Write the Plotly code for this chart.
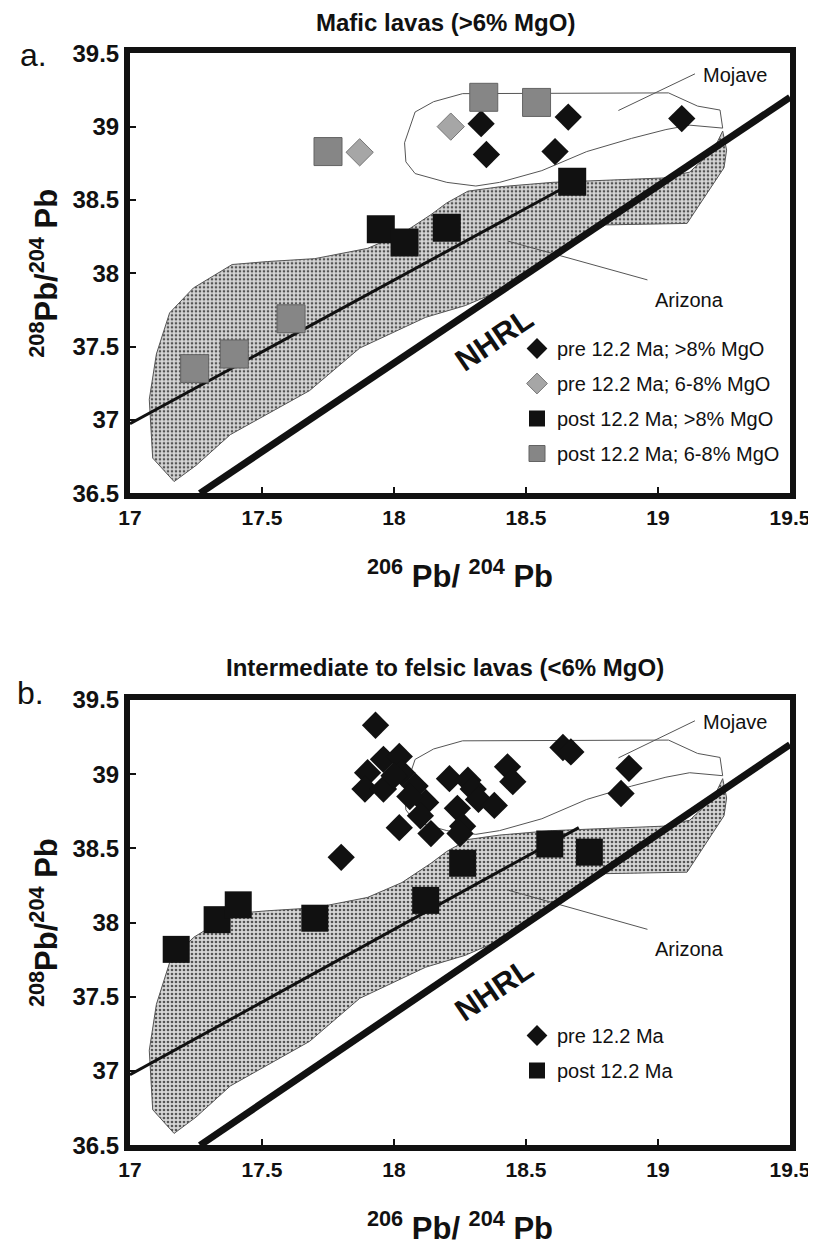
import plotly.graph_objects as go

# ---------------- data ----------------
# Panel a: mafic lavas
a_pre_gt8_x = [18.33, 18.66, 19.09, 18.35, 18.61]
a_pre_gt8_y = [39.02, 39.065, 39.055, 38.81, 38.83]
a_pre_68_x = [18.215, 17.87]
a_pre_68_y = [39.0, 38.825]
a_post_gt8_x = [17.95, 18.04, 18.20, 18.675]
a_post_gt8_y = [38.30, 38.21, 38.31, 38.625]
a_post_68_x = [18.34, 18.54, 17.75, 17.61, 17.395, 17.245]
a_post_68_y = [39.20, 39.165, 38.83, 37.69, 37.45, 37.35]

# Panel b: intermediate to felsic lavas
b_pre_x = [17.93, 17.80, 17.96, 18.02, 17.90, 17.89, 17.96, 18.03, 18.08, 18.12,
           18.10, 18.02, 18.14, 18.21, 18.28, 18.30, 18.24, 18.32, 18.38, 18.26,
           18.25, 18.43, 18.45, 18.64, 18.67, 18.89, 18.86, 18.00, 18.06]
b_pre_y = [39.33, 38.44, 39.10, 39.12, 39.01, 38.90, 38.90, 39.01, 38.92, 38.81,
           38.72, 38.64, 38.60, 38.97, 38.96, 38.90, 38.77, 38.83, 38.79, 38.65,
           38.60, 39.05, 38.95, 39.18, 39.15, 39.04, 38.87, 38.99, 38.85]
b_post_x = [17.175, 17.33, 17.41, 17.70, 18.12, 18.26, 18.59, 18.74]
b_post_y = [37.82, 38.02, 38.12, 38.03, 38.15, 38.40, 38.53, 38.475]

# Fields
arizona_x = [17.167, 17.086, 17.073, 17.10, 17.15, 17.24, 17.387, 17.52, 17.70, 17.90,
             18.03, 18.14, 18.20, 18.28, 18.40, 18.60, 19.02, 19.12, 19.21, 19.245,
             19.26, 19.25, 19.11, 18.80, 18.60, 18.40, 18.27, 18.12, 17.87, 17.68,
             17.55, 17.38, 17.25, 17.167]
arizona_y = [36.58, 36.74, 37.14, 37.45, 37.73, 37.90, 38.06, 38.08, 38.10, 38.17,
             38.27, 38.40, 38.48, 38.56, 38.59, 38.62, 38.65, 38.69, 38.84, 38.97,
             38.84, 38.72, 38.34, 38.33, 38.13, 37.88, 37.78, 37.70, 37.49, 37.20,
             37.07, 36.90, 36.69, 36.58]
mojave_x = [18.08, 18.15, 18.26, 19.04, 19.15, 19.235, 19.245, 19.12, 19.03, 18.90,
            18.73, 18.65, 18.56, 18.40, 18.31, 18.20, 18.08, 18.045, 18.04, 18.08]
mojave_y = [39.10, 39.17, 39.225, 39.23, 39.14, 39.113, 38.99, 39.01, 38.98, 38.92,
            38.83, 38.77, 38.70, 38.62, 38.595, 38.62, 38.68, 38.76, 38.89, 39.10]

# Reference lines
nhrl_x = [17.265, 19.5]
nhrl_y = [36.5, 39.2]
a_trend_x = [17.0, 18.64]
a_trend_y = [36.975, 38.58]
b_trend_x = [17.0, 18.70]
b_trend_y = [36.975, 38.64]

# Label leader lines
mojave_leader_x = [18.85, 19.14]
mojave_leader_y = [39.11, 39.36]
arizona_leader_x = [18.43, 18.96]
arizona_leader_y = [38.22, 37.955]

x_ticks = [17, 17.5, 18, 18.5, 19, 19.5]
y_ticks = [36.5, 37, 37.5, 38, 38.5, 39, 39.5]

FONT = "Liberation Sans"
BLACK = "#111111"

# The page body adds an 8px margin, so the figure is 8px smaller and
# all page-pixel positions below are shifted by that offset.
OFF = 8
W, H = 816 - OFF, 1249 - OFF


def px(xp):
    return (xp - OFF) / W


def py(yp):
    return 1 - (yp - OFF) / H


fig = go.Figure()


def add_fields(xa, ya, trend_x, trend_y):
    fig.add_trace(go.Scatter(
        x=arizona_x, y=arizona_y, xaxis=xa, yaxis=ya, mode="lines", fill="toself",
        fillcolor="#cfcfcf",
        fillpattern=dict(shape=".", fgcolor="#555555", bgcolor="#d6d6d6", size=4, solidity=0.35),
        line=dict(color="#555555", width=1), showlegend=False, hoverinfo="skip"))
    fig.add_trace(go.Scatter(
        x=mojave_x, y=mojave_y, xaxis=xa, yaxis=ya, mode="lines",
        line=dict(color="#555555", width=1), showlegend=False, hoverinfo="skip"))
    fig.add_trace(go.Scatter(
        x=mojave_leader_x, y=mojave_leader_y, xaxis=xa, yaxis=ya, mode="lines",
        line=dict(color="#555555", width=1), showlegend=False, hoverinfo="skip"))
    fig.add_trace(go.Scatter(
        x=arizona_leader_x, y=arizona_leader_y, xaxis=xa, yaxis=ya, mode="lines",
        line=dict(color="#555555", width=1), showlegend=False, hoverinfo="skip"))
    fig.add_trace(go.Scatter(
        x=trend_x, y=trend_y, xaxis=xa, yaxis=ya, mode="lines",
        line=dict(color=BLACK, width=3), showlegend=False, hoverinfo="skip"))
    fig.add_trace(go.Scatter(
        x=nhrl_x, y=nhrl_y, xaxis=xa, yaxis=ya, mode="lines",
        line=dict(color=BLACK, width=7), showlegend=False, hoverinfo="skip"))


add_fields("x", "y", a_trend_x, a_trend_y)
add_fields("x2", "y2", b_trend_x, b_trend_y)

# Panel a markers
fig.add_trace(go.Scatter(
    x=a_pre_gt8_x, y=a_pre_gt8_y, mode="markers", name="pre 12.2 Ma; >8% MgO",
    marker=dict(symbol="diamond", size=21, color=BLACK, line=dict(width=0)),
    legend="legend", legendgroup="a1", legendrank=1))
fig.add_trace(go.Scatter(
    x=a_pre_68_x, y=a_pre_68_y, mode="markers", name="pre 12.2 Ma; 6-8% MgO",
    marker=dict(symbol="diamond", size=21, color="#a6a6a6", line=dict(width=1, color="#777777")),
    legend="legend", legendgroup="a2", legendrank=2))
fig.add_trace(go.Scatter(
    x=a_post_gt8_x, y=a_post_gt8_y, mode="markers", name="post 12.2 Ma; >8% MgO",
    marker=dict(symbol="square", size=28, color=BLACK, line=dict(width=0)),
    legend="legend", legendgroup="a3", legendrank=3))
fig.add_trace(go.Scatter(
    x=a_post_68_x, y=a_post_68_y, mode="markers", name="post 12.2 Ma; 6-8% MgO",
    marker=dict(symbol="square", size=28, color="#868686", line=dict(width=1, color="#636363")),
    legend="legend", legendgroup="a4", legendrank=4))

# Panel b markers
fig.add_trace(go.Scatter(
    x=b_pre_x, y=b_pre_y, xaxis="x2", yaxis="y2", mode="markers", name="pre 12.2 Ma",
    marker=dict(symbol="diamond", size=21, color=BLACK, line=dict(width=0)),
    legend="legend2", legendgroup="b1", legendrank=1))
fig.add_trace(go.Scatter(
    x=b_post_x, y=b_post_y, xaxis="x2", yaxis="y2", mode="markers", name="post 12.2 Ma",
    marker=dict(symbol="square", size=27, color=BLACK, line=dict(width=0)),
    legend="legend2", legendgroup="b2", legendrank=2))

xdom = [px(130), px(790)]
ydom_a = [py(493.3), py(53.3)]
ydom_b = [py(1145.3), py(700)]

axis_common = dict(
    showgrid=False, zeroline=False, showline=True, mirror=True, automargin=False,
    linecolor=BLACK, linewidth=6, ticks="inside", ticklen=6, tickwidth=1.5,
    tickcolor=BLACK,
)
xtitle = "<sup>206</sup> Pb/ <sup>204</sup> Pb"
ytitle = "<sup>208</sup>Pb/<sup>204</sup> Pb"

xaxis_cfg = dict(
    axis_common, range=[17, 19.5], tickvals=x_ticks, domain=xdom,
    tickfont=dict(family=FONT, size=21, color=BLACK, weight="bold"),
    title=dict(text=xtitle, font=dict(family=FONT, size=31, color=BLACK, weight="bold"), standoff=40),
)
yaxis_cfg = dict(
    axis_common, range=[36.5, 39.5], tickvals=y_ticks,
    tickfont=dict(family=FONT, size=24, color=BLACK, weight="bold"),
    title=dict(text=ytitle, font=dict(family=FONT, size=31, color=BLACK, weight="bold"), standoff=8),
)

legend_common = dict(
    bgcolor="rgba(0,0,0,0)", borderwidth=0, traceorder="grouped",
    tracegroupgap=6, itemsizing="trace",
    font=dict(family=FONT, size=20, color=BLACK),
    xanchor="left", yanchor="top",
)

fig.update_layout(
    template="none",
    width=W, height=H,
    paper_bgcolor="white", plot_bgcolor="white",
    margin=dict(l=0, r=0, t=0, b=0, autoexpand=False),
    xaxis=dict(xaxis_cfg, anchor="y"),
    yaxis=dict(yaxis_cfg, domain=ydom_a, anchor="x"),
    xaxis2=dict(xaxis_cfg, anchor="y2"),
    yaxis2=dict(yaxis_cfg, domain=ydom_b, anchor="x2"),
    legend=dict(legend_common, x=px(517), y=py(329)),
    legend2=dict(legend_common, x=px(517), y=py(1016)),
    showlegend=True,
)

annotations = [
    dict(text="<b>Mafic lavas (>6% MgO)</b>", xref="paper", yref="paper", x=px(445), y=py(22),
         xanchor="center", yanchor="middle", showarrow=False,
         font=dict(family=FONT, size=24, color=BLACK)),
    dict(text="<b>Intermediate to felsic lavas (<6% MgO)</b>", xref="paper", yref="paper",
         x=px(445), y=py(667), xanchor="center", yanchor="middle", showarrow=False,
         font=dict(family=FONT, size=24, color=BLACK)),
    dict(text="a.", xref="paper", yref="paper", x=px(33), y=py(55), xanchor="center",
         yanchor="middle", showarrow=False, font=dict(family=FONT, size=32, color=BLACK)),
    dict(text="b.", xref="paper", yref="paper", x=px(30), y=py(693), xanchor="center",
         yanchor="middle", showarrow=False, font=dict(family=FONT, size=32, color=BLACK)),
]
for xr, yr in (("x", "y"), ("x2", "y2")):
    annotations += [
        dict(text="Mojave", xref=xr, yref=yr, x=19.29, y=39.35, showarrow=False,
             xanchor="center", yanchor="middle", font=dict(family=FONT, size=20, color=BLACK)),
        dict(text="Arizona", xref=xr, yref=yr, x=19.12, y=37.82, showarrow=False,
             xanchor="center", yanchor="middle", font=dict(family=FONT, size=20, color=BLACK)),
        dict(text="<b>NHRL</b>", xref=xr, yref=yr, x=18.38, y=37.55, showarrow=False,
             xanchor="center", yanchor="middle", textangle=-34,
             font=dict(family=FONT, size=31, color=BLACK)),
    ]
fig.update_layout(annotations=annotations)

fig.write_html("out.html")
